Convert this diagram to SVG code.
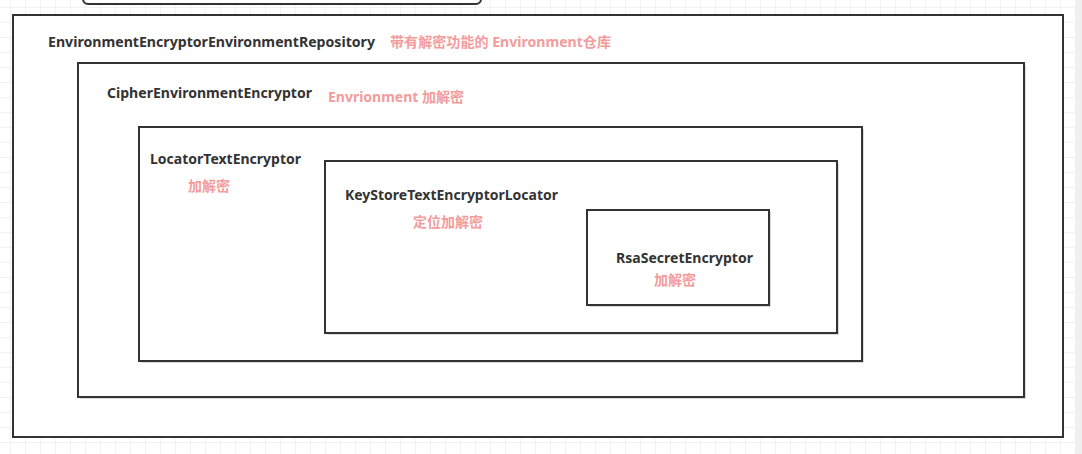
<svg xmlns="http://www.w3.org/2000/svg" width="1082" height="454" viewBox="0 0 1082 454">
<defs>
<pattern id="grid" x="10" y="7" width="15" height="15" patternUnits="userSpaceOnUse">
<path d="M0 0 H15 M0 0 V15" fill="none" stroke="#e6e6e6" stroke-width="1"/>
</pattern>
</defs>
<style>
.box{fill:#ffffff;stroke:#333333;stroke-width:2}
.shadow{fill:none;stroke:#d0d0d0;stroke-width:1.5}
.name{font-family:"Noto Sans","Liberation Sans","Noto Sans CJK SC",sans-serif;font-weight:bold;font-size:14px;fill:#333333}
.note{font-family:"Noto Sans","Liberation Sans","Noto Sans CJK SC",sans-serif;font-weight:bold;font-size:14px;fill:#f39c9c}
</style>
<rect x="0" y="0" width="1082" height="454" fill="#ffffff"/>
<rect x="0" y="0" width="1075" height="454" fill="url(#grid)"/>
<rect x="1075" y="0" width="7" height="454" fill="#f0f0f0"/>
<g id="top-box">
<rect x="83" y="-20" width="398" height="24" rx="5" ry="5" class="box"/>
</g>
<g id="n1">
<rect x="13" y="15" width="1050" height="422" class="box"/>
<text class="name" x="48" y="47" textLength="327" lengthAdjust="spacingAndGlyphs">EnvironmentEncryptorEnvironmentRepository</text>
<text class="note" x="390" y="47" textLength="221" lengthAdjust="spacingAndGlyphs">带有解密功能的 Environment仓库</text>
</g>
<g id="n2">
<path d="M80 398 H1025 V65" class="shadow"/>
<rect x="78" y="63" width="946" height="334" class="box"/>
<text class="name" x="107" y="98" textLength="205" lengthAdjust="spacingAndGlyphs">CipherEnvironmentEncryptor</text>
<text class="note" x="328" y="102" textLength="136" lengthAdjust="spacingAndGlyphs">Envrionment 加解密</text>
</g>
<g id="n3">
<path d="M141 362 H863 V129" class="shadow"/>
<rect x="139" y="127" width="723" height="234" class="box"/>
<text class="name" x="150" y="164" textLength="151" lengthAdjust="spacingAndGlyphs">LocatorTextEncryptor</text>
<text class="note" x="188" y="191">加解密</text>
</g>
<g id="n4">
<path d="M327 334 H838 V163" class="shadow"/>
<rect x="325" y="161" width="512" height="172" class="box"/>
<text class="name" x="345" y="200" textLength="213" lengthAdjust="spacingAndGlyphs">KeyStoreTextEncryptorLocator</text>
<text class="note" x="413" y="227">定位加解密</text>
</g>
<g id="n5">
<path d="M589 306 H770 V212" class="shadow"/>
<rect x="587" y="210" width="182" height="95" class="box"/>
<text class="name" x="616" y="263" textLength="137" lengthAdjust="spacingAndGlyphs">RsaSecretEncryptor</text>
<text class="note" x="654" y="285">加解密</text>
</g>
<g id="connectors"/>
</svg>
